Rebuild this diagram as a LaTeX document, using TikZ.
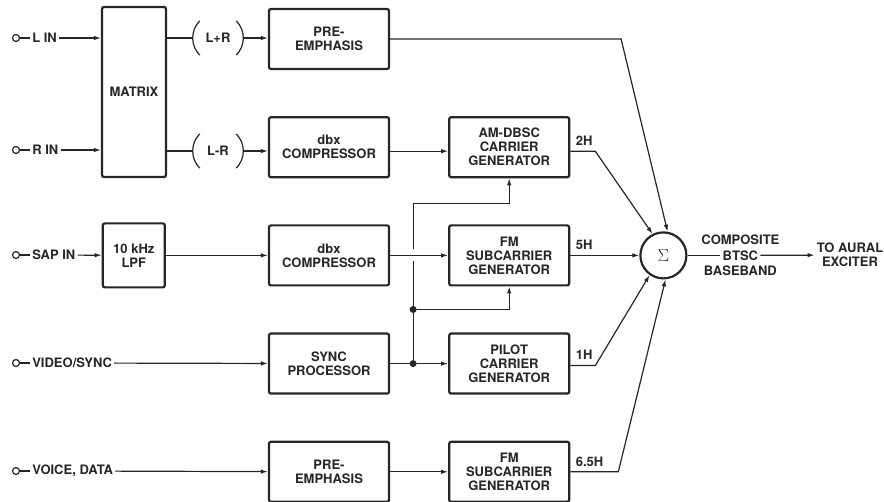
\documentclass[tikz,border=0pt]{standalone}
\usepackage{fontspec}
\setmainfont{TeX Gyre Heros}
\usepackage{tikz}
\usetikzlibrary{arrows.meta, positioning, calc}
\definecolor{ink}{HTML}{262626}

\begin{document}
\begin{tikzpicture}[
			x=1pt, y=-1pt,
			every node/.style={font=\fontsize{13}{14}\selectfont\bfseries, text=ink},
			blk/.style={
				draw=ink, line width=2.2pt, rounded corners=2pt,
				minimum width=120pt, minimum height=60pt,
				align=center, inner sep=2pt
			},
			txt/.style={inner sep=2pt, align=center},
			hlab/.style={anchor=south west, inner sep=0pt, xshift=5pt, yshift=5pt},
			jack/.style={circle, draw=ink, line width=1.2pt, minimum size=7pt, inner sep=0pt},
			dot/.style={circle, fill=ink, minimum size=7pt, inner sep=0pt},
			sumn/.style={circle, draw=ink, line width=2.2pt, minimum size=46pt, inner sep=0pt,
				font=\fontsize{17}{17}\selectfont},
			paren/.style={inner sep=0pt, minimum width=50pt, minimum height=34pt},
			wire/.style={draw=ink, line width=1.2pt},
			arr/.style={wire, -{Latex[length=7pt, width=4.5pt]}},
			node distance=46pt and 58pt
			]
			\useasboundingbox (0,0) rectangle (884,502);
			\node[blk] (pre1) at (329,39) {PRE-\\EMPHASIS};
			\node[blk, below=of pre1] (comp1) {dbx\\COMPRESSOR};
			\node[blk, below=of comp1] (comp2) {dbx\\COMPRESSOR};
			\node[blk, below=of comp2] (sync) {SYNC\\PROCESSOR};
			\node[blk, below=of sync] (pre2) {PRE-\\EMPHASIS};
			\node[blk, right=of comp1] (am) {AM-DBSC\\CARRIER\\GENERATOR};
			\node[blk, right=of comp2] (fm1) {FM\\SUBCARRIER\\GENERATOR};
			\node[blk, right=of sync] (pilot) {PILOT\\CARRIER\\GENERATOR};
			\node[blk, right=of pre2] (fm2) {FM\\SUBCARRIER\\GENERATOR};
			\node[blk, minimum width=64pt, minimum height=170pt] (mtx) at (134,92) {MATRIX};
			\node[blk, minimum width=62pt, minimum height=64pt, left=102pt of comp2] (lpf) {10 kHz\\LPF};
			\node[sumn, right=69pt of fm1] (sum) {\(\Sigma\)};

			\node[jack] (jl) at (16,38) {};
			\node[txt, right=10pt of jl] (lin) {L IN};
			\node[jack] (jr) at (16,150) {};
			\node[txt, right=10pt of jr] (rin) {R IN};
			\node[jack] (js) at (16,255) {};
			\node[txt, right=10pt of js] (sap) {SAP IN};
			\node[jack] (jv) at (16,363) {};
			\node[txt, right=10pt of jv] (vid) {VIDEO/SYNC};
			\node[jack] (jd) at (16,471) {};
			\node[txt, right=10pt of jd] (dat) {VOICE, DATA};

			\node[paren] (lpr) at (218,38) {L+R};
			\node[paren] (lmr) at (218,151) {L-R};
			\foreach \p in {lpr,lmr} {
				\draw[wire] ([xshift=7pt]\p.north west) to[bend right=45] ([xshift=7pt]\p.south west);
				\draw[wire] ([xshift=-7pt]\p.north east) to[bend left=45] ([xshift=-7pt]\p.south east);
			}

			\node[txt] (bt) at ($(sum)+(77,0)$) {BTSC};
			\node[txt, inner ysep=3pt, above=0pt of bt] (cmp) {COMPOSITE};
			\node[txt, inner ysep=3pt, below=0pt of bt] (bb) {BASEBAND};
			\node[txt] (exc) at (850,255) {TO AURAL\\EXCITER};

			\foreach \j/\t in {jl/lin, jr/rin, js/sap, jv/vid, jd/dat}
				\draw[wire] (\j) -- (\t);
			\draw[arr] (lin) -- (lin -| mtx.west);
			\draw[arr] (rin) -- (rin -| mtx.west);
			\draw[arr] (sap) -- (lpf);
			\draw[arr] (vid) -- (sync);
			\draw[arr] (dat) -- (pre2);
			\draw[wire] (lpr -| mtx.east) -- (lpr);
			\draw[wire] (lmr -| mtx.east) -- (lmr);
			\draw[arr] (lpr) -- (lpr -| pre1.west);
			\draw[arr] (lmr) -- (lmr -| comp1.west);
			\draw[arr] (lpf) -- (comp2);
			\draw[arr] ([yshift=-4pt]comp1.east) -- ([yshift=-4pt]am.west);
			\draw[arr] (comp2) -- (fm1);
			\draw[arr] (sync) -- (pilot);
			\draw[arr] (pre2) -- (fm2);

			\coordinate (tap) at ($(sync.east)+(23,0)$);
			\coordinate (br) at ($(fm1.south)+(0,23)$);
			\coordinate (tp) at ($(am.south)+(0,25)$);
			\draw[wire] (tap) -- ($(tap |- comp2.east)+(0,6)$);
			\draw[arr] ($(tap |- comp2.east)+(0,-6)$) |- (tp) -- (am.south);
			\draw[arr] (tap |- br) -| (fm1.south);
			\node[dot] (d1) at (tap) {};
			\node[dot] (d2) at (tap |- br) {};

			\draw[arr] (pre1.east) -- ++(231,0) -- (sum.80);
			\draw[arr] ([yshift=-4pt]am.east) -- node[hlab, at start] (h2) {2H} ++(25,0) -- (sum.117);
			\draw[arr] (fm1) -- node[hlab, at start] (h5) {5H} (sum);
			\draw[arr] ([yshift=-2pt]pilot.east) -- node[hlab, at start] (h1) {1H} ++(25,0) -- (sum.235);
			\draw[arr] (fm2.east) -- node[hlab, at start] (h65) {6.5H} ++(48,0) -- (sum.275);
			\draw[wire] (sum) -- (bt);
			\draw[arr] (bt) -- (exc);
		\end{tikzpicture}
\end{document}
